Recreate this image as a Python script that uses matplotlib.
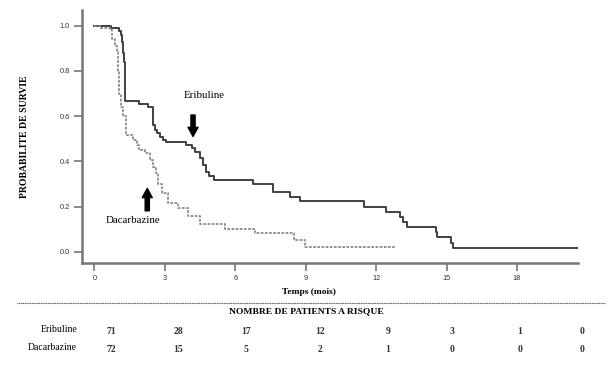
import matplotlib
matplotlib.use("Agg")
import matplotlib.pyplot as plt

# Kaplan-Meier steps (time in months, survival probability)
eri_t = [0, 0.69, 1.05, 1.13, 1.18, 1.22, 1.27, 1.32, 1.9, 2.29, 2.48, 2.58, 2.68,
         2.79, 2.92, 3.05, 3.89, 4.14, 4.28, 4.5, 4.62, 4.75, 4.9, 5.1, 6.76, 7.61,
         8.32, 8.74, 11.47, 12.43, 13.03, 13.13, 13.33, 14.53, 14.6, 15.2, 15.27, 20.56]
eri_s = [1.0, 0.99, 0.975, 0.96, 0.93, 0.88, 0.84, 0.668, 0.652, 0.639, 0.56, 0.54,
         0.525, 0.507, 0.494, 0.484, 0.472, 0.457, 0.44, 0.414, 0.383, 0.354, 0.335,
         0.317, 0.298, 0.263, 0.241, 0.224, 0.199, 0.177, 0.155, 0.133, 0.111, 0.088,
         0.064, 0.04, 0.018, 0.018]

dac_t = [0, 0.25, 0.66, 0.73, 0.87, 0.95, 1.01, 1.06, 1.12, 1.2, 1.33, 1.65, 1.82,
         1.9, 2.17, 2.36, 2.5, 2.64, 2.72, 2.86, 3.12, 3.57, 3.99, 4.49, 5.55, 6.83,
         8.5, 8.98, 12.86]
dac_s = [1.0, 0.992, 0.98, 0.94, 0.91, 0.885, 0.80, 0.70, 0.64, 0.60, 0.516, 0.494,
         0.472, 0.45, 0.435, 0.406, 0.376, 0.347, 0.30, 0.258, 0.214, 0.195, 0.159,
         0.121, 0.099, 0.081, 0.052, 0.022, 0.022]

x_ticks = [0, 3, 6, 9, 12, 15, 18]
y_ticks = [0.0, 0.2, 0.4, 0.6, 0.8, 1.0]

groups = ["Eribuline", "Dacarbazine"]
at_risk_eri = [71, 28, 17, 12, 9, 3, 1, 0]
at_risk_dac = [72, 15, 5, 2, 1, 0, 0, 0]

serif = "Liberation Serif"
sans = "Liberation Sans"

fig = plt.figure(figsize=(6.08, 3.67), dpi=100)
ax = fig.add_axes([82 / 608, 1 - 263 / 367, 496 / 608, 253 / 367])

ax.step(eri_t, eri_s, where="post", color="#404040", lw=1.4)
ax.step(dac_t, dac_s, where="post", color="#8a8a8a", lw=1.3, linestyle=(0, (1.5, 0.8)))

ax.set_xlim(-0.53, 20.6)
ax.set_ylim(-0.05, 1.07)
ax.set_xticks(x_ticks)
ax.set_yticks(y_ticks)
ax.set_yticklabels([f"{v:.1f}" for v in y_ticks])
for lab in ax.get_xticklabels() + ax.get_yticklabels():
    lab.set_fontfamily(sans)
    lab.set_fontsize(5.3)
    lab.set_color("#333333")
ax.tick_params(direction="out", length=6, width=1.2, color="#777777", pad=3)
for side in ["top", "right"]:
    ax.spines[side].set_visible(False)
for side in ["left", "bottom"]:
    ax.spines[side].set_color("#777777")
    ax.spines[side].set_linewidth(1.8)

ax.set_ylabel("PROBABILITE DE SURVIE", fontfamily=serif, fontsize=7,
              fontweight="bold", labelpad=22)

# annotations with arrows
arrow = dict(arrowstyle="simple,head_length=0.55,head_width=0.6,tail_width=0.25",
             color="black", mutation_scale=12, shrinkA=0, shrinkB=0)
ax.text(4.66, 0.693, "Eribuline", fontfamily=serif, fontsize=7.8,
        ha="center", va="center")
ax.annotate("", xy=(4.2, 0.51), xytext=(4.2, 0.605), arrowprops=arrow)
ax.text(1.65, 0.14, "Dacarbazine", fontfamily=serif, fontsize=7.8,
        ha="center", va="center")
ax.annotate("", xy=(2.25, 0.28), xytext=(2.25, 0.181), arrowprops=arrow)

# lower part: axis title, separator and number-at-risk table
fig.text(309 / 608, 1 - 292 / 367, "Temps (mois)", fontfamily=serif, fontsize=6.8,
         fontweight="bold", ha="center", va="center")
fig.add_artist(plt.Line2D([17 / 608, 605 / 608], [1 - 303 / 367] * 2,
                          color="#555555", lw=0.8, linestyle=(0, (1, 0.6))))
fig.text(306 / 608, 1 - 311.5 / 367, "NOMBRE DE PATIENTS A RISQUE", fontfamily=serif,
         fontsize=6.8, fontweight="bold", ha="center", va="center")

col_x = [111, 178, 246, 320, 388, 452, 520, 582]
row_y = [331, 349]
for name, counts, y in zip(groups, [at_risk_eri, at_risk_dac], row_y):
    fig.text(77 / 608, 1 - (y - 1.5) / 367, name, fontfamily=serif, fontsize=7,
             ha="right", va="center")
    for x, n in zip(col_x, counts):
        fig.text(x / 608, 1 - y / 367, str(n), fontfamily=serif, fontsize=7,
                 fontweight="bold", color="#333333", ha="center", va="center")

fig.savefig("out.png", dpi=100)
